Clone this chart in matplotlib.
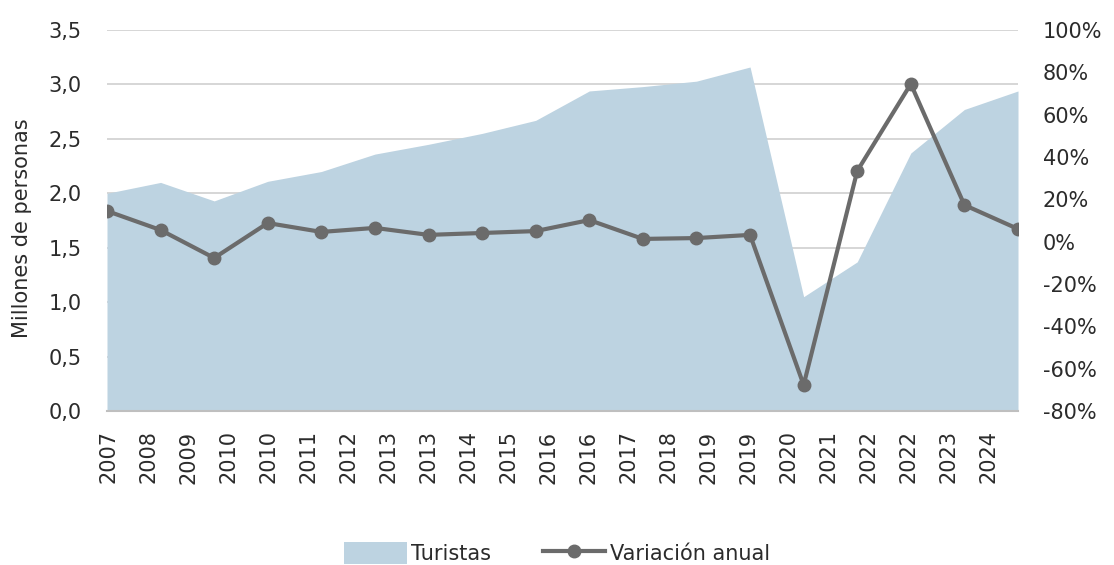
import matplotlib.pyplot as plt
import numpy as np
from matplotlib.ticker import FuncFormatter

# datos
years = list(range(2007, 2025))
turistas = [2.00, 2.10, 1.93, 2.11, 2.20, 2.36, 2.45, 2.55, 2.67, 2.94,
            2.98, 3.03, 3.16, 1.05, 1.37, 2.37, 2.77, 2.94]
variacion = [14.5, 5.5, -7.7, 8.8, 4.6, 6.5, 3.2, 4.1, 5.0, 10.2,
             1.3, 1.7, 3.2, -67.7, 33.4, 74.5, 17.3, 6.0]
tick_labels = ['2007', '2008', '2009', '2010', '2010', '2011', '2012', '2013',
               '2013', '2014', '2015', '2016', '2016', '2017', '2018', '2019',
               '2019', '2020', '2021', '2022', '2022', '2023', '2024']

plt.rcParams['font.family'] = ['DejaVu Sans']
txt = '#2B2B2B'

fig = plt.figure(figsize=(11.14, 5.65), dpi=100)
ax = fig.add_axes([107 / 1114, 1 - 411 / 565, (1018 - 107) / 1114, (411 - 30) / 565])

x = np.arange(len(years))
area = ax.fill_between(x, turistas, 0, color='#BDD3E1', lw=0, zorder=2, label='Turistas')
ax.set_xlim(0, len(years) - 1)
ax.set_ylim(0, 3.5)
ax.set_yticks(np.arange(0, 3.51, 0.5))
ax.yaxis.set_major_formatter(FuncFormatter(lambda v, p: f'{v:.1f}'.replace('.', ',')))
ax.grid(axis='y', color='#D0D0D0', lw=1.2, zorder=1)
ax.set_axisbelow(True)

# etiquetas del eje x (eje de fechas en el original)
tick_pos = np.arange(len(tick_labels)) * 0.7465 + 0.03
ax.set_xticks(tick_pos)
ax.set_xticklabels(tick_labels, rotation=90)

for s in ['top', 'left', 'right']:
    ax.spines[s].set_visible(False)
ax.spines['bottom'].set_color('#BFBFBF')
ax.spines['bottom'].set_linewidth(1.5)
ax.spines['bottom'].set_zorder(3)
ax.tick_params(axis='both', length=0, labelsize=15, colors=txt)
ax.tick_params(axis='y', pad=18)
ax.tick_params(axis='x', pad=14)
ax.set_ylabel('Millones de personas', fontsize=15, color=txt, labelpad=11)
ax.yaxis.set_label_coords(-0.082, 0.48)

ax2 = ax.twinx()
line, = ax2.plot(x, variacion, color='#6B6B6B', lw=3, marker='o', ms=9,
                 zorder=4, label='Variación anual')
ax2.set_ylim(-80, 100)
ax2.set_yticks(np.arange(-80, 101, 20))
ax2.yaxis.set_major_formatter(FuncFormatter(lambda v, p: f'{v:.0f}%'))
ax2.tick_params(axis='y', length=0, labelsize=15, colors=txt, pad=18)
for s in ax2.spines.values():
    s.set_visible(False)

leg = fig.legend([area, line], ['Turistas', 'Variación anual'], loc='center',
                 bbox_to_anchor=(0.5, 12 / 565), ncol=2, frameon=False,
                 fontsize=15, handlelength=3, handleheight=1.2, columnspacing=2.5,
                 handletextpad=0.2)
for t in leg.get_texts():
    t.set_color(txt)

fig.savefig('out.png', dpi=100)
